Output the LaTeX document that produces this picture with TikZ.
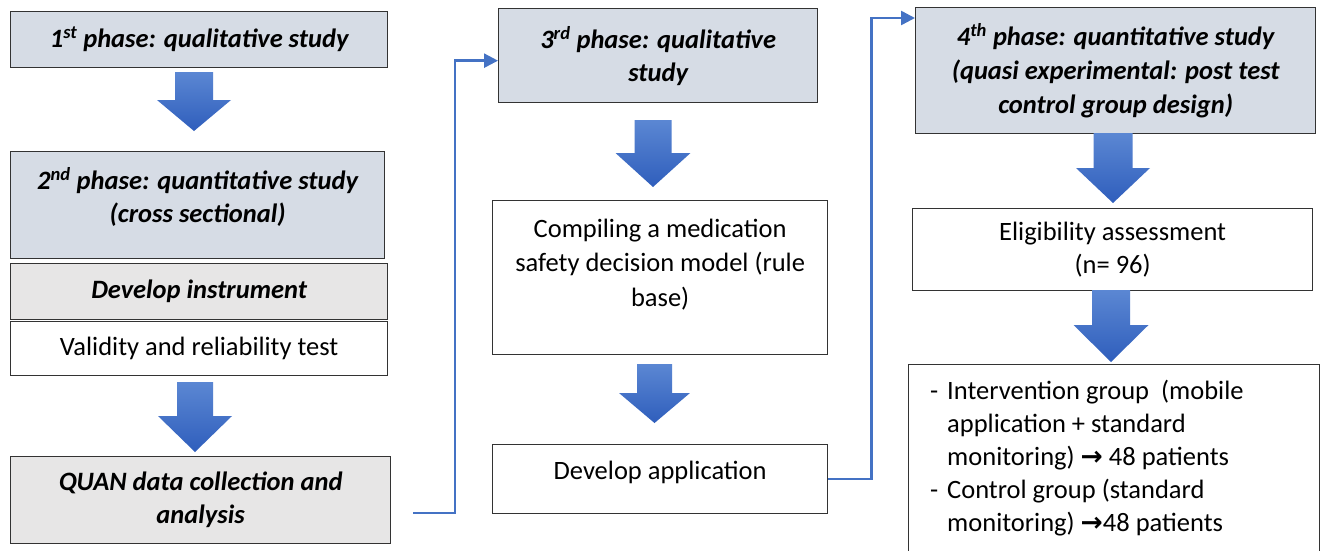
\documentclass[tikz,border=0pt]{standalone}
\usepackage{fontspec}
\setmainfont{Carlito}
\newfontfamily\symfont{DejaVu Sans}
\usetikzlibrary{arrows.meta,calc}
\definecolor{phasefill}{HTML}{D6DCE5}
\definecolor{grayfill}{HTML}{E7E6E6}
\definecolor{connblue}{HTML}{4472C4}
\definecolor{arrtop}{HTML}{5B87D3}
\definecolor{arrbot}{HTML}{2F5EBC}
\newcommand\blockarrow[6]{\shade[top color=arrtop,bottom color=arrbot] ({#1-#5},#2) -- ({#1+#5},#2) -- ({#1+#5},#3) -- ({#1+#6},#3) -- (#1,#4) -- ({#1-#6},#3) -- ({#1-#5},#3) -- cycle;}
\begin{document}
\begin{tikzpicture}[x=1pt,y=-1pt,
  box/.style={draw=black!80,line width=1.3pt,anchor=north west,inner sep=0pt},
  phase/.style={box,fill=phasefill},
  grey/.style={box,fill=grayfill},
  plain/.style={box,fill=white},
  txt/.style={align=center,font=\fontsize{26.5}{33}\selectfont},
  btxt/.style={align=center,font=\fontsize{26.5}{33}\selectfont\bfseries\itshape},
  conn/.style={draw=connblue,line width=2.5pt,-{Triangle[length=14pt,width=14pt]}}]
\useasboundingbox (0,0) rectangle (1322,550);
\fill[white] (0,0) rectangle (1322,550);

% left column
\node[phase,minimum width=377pt,minimum height=56pt,btxt] (p1) at (10,11) {1\textsuperscript{st} phase: qualitative study};
\node[phase,minimum width=374pt,minimum height=107pt] (p2) at (10,151) {};
\node[btxt] (p2t) at ([yshift=8pt]p2.center) {2\textsuperscript{nd} phase: quantitative study\\(cross sectional)};
\node[grey,minimum width=377pt,minimum height=56pt,btxt] (instr) at (10,263) {Develop instrument};
\node[plain,minimum width=377pt,minimum height=54pt,txt] (valid) at (10,321) {Validity and reliability test};
\node[grey,minimum width=380pt,minimum height=87pt,btxt] (quan) at (10,456) {QUAN data collection and\\analysis};

% middle column
\node[phase,minimum width=319pt,minimum height=94pt,btxt] (p3) at (498,8) {3\textsuperscript{rd} phase: qualitative\\study};
\node[plain,minimum width=335pt,minimum height=154pt] (comp) at (492,200) {};
\node[txt,font=\fontsize{26.5}{34.5}\selectfont] (compt) at ([yshift=13.5pt]comp.center) {Compiling a medication\\safety decision model (rule\\base)};
\node[plain,minimum width=335pt,minimum height=69pt] (app) at (492,444) {};
\node[txt] (appt) at ([yshift=7pt]app.center) {Develop application};

% right column
\node[phase,minimum width=400pt,minimum height=126pt,btxt,font=\fontsize{26.5}{34}\selectfont\bfseries\itshape] (p4) at (915,7) {4\textsuperscript{th} phase: quantitative study\\(quasi experimental: post test\\control group design)};
\node[plain,minimum width=400pt,minimum height=82pt,txt] (elig) at (912,208) {Eligibility assessment\\(n= 96)};
\node[plain,minimum width=411pt,minimum height=200pt] (grp) at (908,364) {};
\node[anchor=north west,inner sep=0pt,align=left,font=\fontsize{26.5}{33}\selectfont] (grpt) at (930,380)
 {\makebox[17pt][l]{-}Intervention group~ (mobile\\
  \hspace*{17pt}application + standard\\
  \hspace*{17pt}monitoring) {\symfont\bfseries →} 48 patients\\
  \makebox[17pt][l]{-}Control group (standard\\
  \hspace*{17pt}monitoring) {\symfont\bfseries →}48 patients};

% block arrows
\blockarrow{194}{72}{100}{131}{19}{37}
\blockarrow{195}{382}{416}{452}{18}{37}
\blockarrow{653}{120}{153}{187}{18.5}{37.5}
\blockarrow{654.5}{364}{393}{423}{17.5}{35.5}
\blockarrow{1113}{133}{168}{203}{19.5}{37}
\blockarrow{1111}{290}{325}{362}{19}{37.5}

% connectors
\coordinate (c1) at (413,513);
\draw[conn] (c1) -- (455,513) |- ([yshift=-5pt]p3.west);
\draw[conn] (app.east) -- ++(43,0) |- ([yshift=-11pt]p4.north west);
\end{tikzpicture}
\end{document}
